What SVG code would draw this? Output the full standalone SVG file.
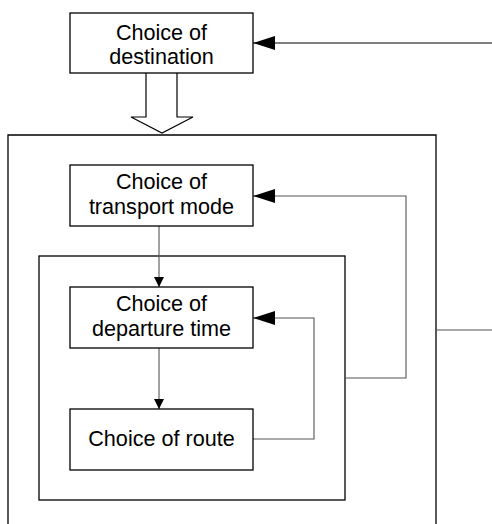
<svg xmlns="http://www.w3.org/2000/svg" width="492" height="524" viewBox="0 0 492 524">
<style>
.box{fill:#fff;stroke:#000;stroke-width:1.3}
.frame{fill:none;stroke:#000;stroke-width:1.3}
.lbl{font-family:"Liberation Sans",Arial,sans-serif;font-size:21.6px;fill:#000;text-anchor:middle}
.con{fill:none;stroke:#555;stroke-width:1.1}
.con.dark{stroke:#000}
</style>
<defs>
<marker id="big" markerWidth="22" markerHeight="14" refX="22" refY="7" orient="auto" markerUnits="userSpaceOnUse">
<path d="M0,0 L22,7 L0,14 Z" fill="#000"/>
</marker>
<marker id="small" markerWidth="10" markerHeight="12" refX="10" refY="5" orient="auto" markerUnits="userSpaceOnUse">
<path d="M0,0 L10,5 L0,10 Z" fill="#000"/>
</marker>
</defs>
<g id="outer-frame"><path class="frame" d="M8,530 V135 H436 V530"/></g>
<g id="inner-frame"><rect class="frame" x="39" y="256" width="306" height="244"/></g>
<g id="connectors">
<line class="con dark" x1="492" y1="43" x2="253" y2="43" marker-end="url(#big)"/>
<path d="M146,73 V117 H131 L162,133 L193,117 H177 V73" fill="#fff" stroke="#000" stroke-width="1.2"/>
<polyline class="con" points="345,378 406,378 406,196 253,196" marker-end="url(#big)"/>
<line class="con" x1="159" y1="226" x2="159" y2="287" marker-end="url(#small)"/>
<line class="con" x1="159" y1="348" x2="159" y2="409" marker-end="url(#small)"/>
<polyline class="con" points="253,439 314,439 314,318 253,318" marker-end="url(#big)"/>
<line class="con" x1="436" y1="330" x2="492" y2="330"/>
</g>
<g id="destination"><rect class="box" x="70" y="13" width="183" height="60"/>
<text class="lbl" x="161.5" y="40">Choice of</text><text class="lbl" x="161.5" y="64">destination</text></g>
<g id="transport-mode"><rect class="box" x="70" y="165" width="183" height="61"/>
<text class="lbl" x="161.5" y="189">Choice of</text><text class="lbl" x="161.5" y="214">transport mode</text></g>
<g id="departure-time"><rect class="box" x="70" y="287" width="183" height="61"/>
<text class="lbl" x="161.5" y="311">Choice of</text><text class="lbl" x="161.5" y="336">departure time</text></g>
<g id="route"><rect class="box" x="70" y="409" width="183" height="61"/>
<text class="lbl" x="161.5" y="446">Choice of route</text></g>
</svg>
